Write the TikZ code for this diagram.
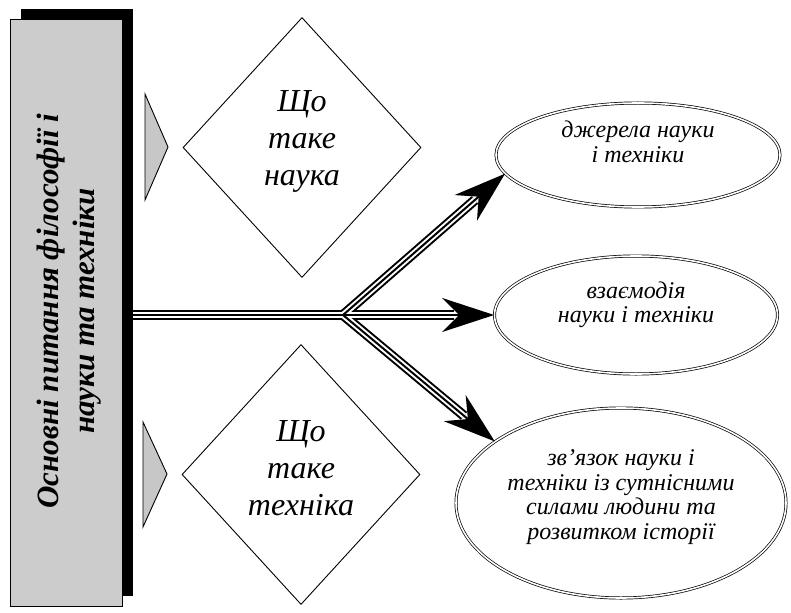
\documentclass[tikz,border=0pt]{standalone}
\usepackage{fontspec}
\setmainfont{Liberation Serif}
\usetikzlibrary{shapes.geometric,arrows.meta,shadows}
\begin{document}
\begin{tikzpicture}[x=1pt,y=-1pt,
  sidebox/.style={draw=black,line width=0.8pt,fill=black!20,minimum width=112pt,minimum height=587pt,inner sep=0pt,
    general shadow={fill=black,shadow xshift=11pt,shadow yshift=10pt}},
  sidetext/.style={rotate=90,align=center,font=\fontsize{31}{36}\selectfont\bfseries\itshape},
  qbox/.style={diamond,draw=black,line width=0.9pt,minimum width=238pt,minimum height=260pt,inner sep=0pt},
  qtext/.style={align=center,font=\fontsize{32}{37}\selectfont\itshape},
  tri/.style={draw=black,line width=0.9pt,fill=black!22},
  topic/.style={ellipse,draw=black,line width=0.7pt,double,double distance=1.6pt,inner sep=0pt},
  ttext/.style={align=center,font=\fontsize{24}{24.5}\selectfont\itshape},
  outer/.style={line width=10pt,black},
  mid/.style={line width=6pt,white},
  inner/.style={line width=2pt,black},
  tip/.style={-{Stealth[length=52pt,width=34pt,inset=17pt]}}
]
\useasboundingbox (0,0) rectangle (791,612);
\fill[white] (0,0) rectangle (791,612);

% left box
\node[sidebox] (box) at (66,312.5) {};
\node[sidetext] (boxtext) at (69,311) {Основні питання філософії і\\науки та техніки};

% triangles
\draw[tri] (145,94) -- (168,147) -- (145,200) -- cycle;
\draw[tri] (143,422) -- (167,474) -- (143,527) -- cycle;

% diamonds
\node[qbox] (d1) at (302,147.5) {};
\node[qtext] (d1t) at (302,141) {Що\\таке\\наука};
\node[qbox] (d2) at (301,474.5) {};
\node[qtext] (d2t) at (301,468) {Що\\таке\\техніка};

% ellipses
\node[topic,minimum width=284pt,minimum height=104pt] (e1) at (638,155) {};
\node[ttext] (e1t) at (638,142) {джерела науки\\і техніки};
\node[topic,minimum width=283pt,minimum height=118pt] (e2) at (636,315) {};
\node[ttext] (e2t) at (636,305) {взаємодія\\науки і техніки};
\node[topic,minimum width=330pt,minimum height=190pt] (e3) at (621,503) {};
\node[ttext] (e3t) at (621,497) {зв'язок науки і\\техніки із сутнісними\\силами людини та\\розвитком історії};

% connectors
\coordinate (start) at ([xshift=11pt]box.east |- e2.west);
\coordinate (j) at (343,315);
\draw[outer,shorten >=40pt] (start) -- (e2.west);
\draw[outer,shorten >=40pt] (j) -- (e1.188);
\draw[outer,shorten >=40pt] (j) -- (e3.154);
\draw[mid,shorten >=40pt] (start) -- (e2.west);
\draw[mid,shorten >=40pt] (j) -- (e1.188);
\draw[mid,shorten >=40pt] (j) -- (e3.154);
\draw[inner,tip] (start) -- (e2.west);
\draw[inner,tip] (j) -- (e1.188);
\draw[inner,tip] (j) -- (e3.154);
\end{tikzpicture}
\end{document}
